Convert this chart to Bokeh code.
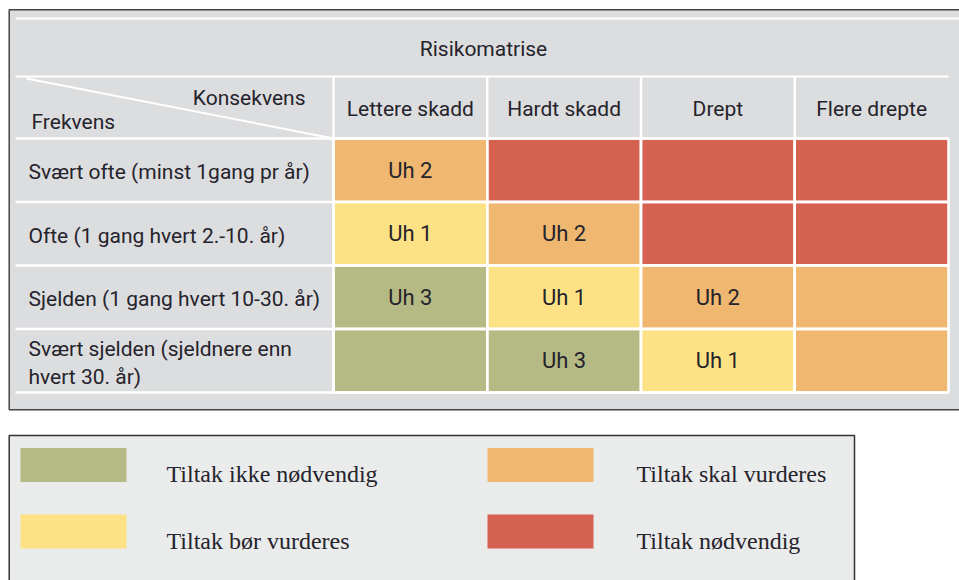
from bokeh.plotting import figure
from bokeh.models import Range1d, ColumnDataSource
from bokeh.core.properties import value
from bokeh.embed import file_html
from bokeh.resources import INLINE

# ---------------- data ----------------
title = "Risikomatrise"
corner_top = "Konsekvens"
corner_bottom = "Frekvens"
consequences = ["Lettere skadd", "Hardt skadd", "Drept", "Flere drepte"]
frequencies = [
    "Svært ofte (minst 1gang pr år)",
    "Ofte (1 gang hvert 2.-10. år)",
    "Sjelden (1 gang hvert 10-30. år)",
    "Svært sjelden (sjeldnere enn\nhvert 30. år)",
]
# risk level per cell (0 = ikke nødvendig ... 3 = nødvendig)
risk_levels = [
    [2, 3, 3, 3],
    [1, 2, 3, 3],
    [0, 1, 2, 2],
    [0, 0, 1, 2],
]
cell_labels = [
    ["Uh 2", "", "", ""],
    ["Uh 1", "Uh 2", "", ""],
    ["Uh 3", "Uh 1", "Uh 2", ""],
    ["", "Uh 3", "Uh 1", ""],
]
legend_labels = ["Tiltak ikke nødvendig", "Tiltak bør vurderes",
                 "Tiltak skal vurderes", "Tiltak nødvendig"]
level_colors = ["#b5ba84", "#fde285", "#f0b770", "#d56250"]

# ---------------- layout (pixels, y downwards) ----------------
W, H = 959, 580
SANS = "Roboto"
SERIF = "Liberation Serif"
TXT = "#25232b"
FS = "21px"
GRID_LEFT, GRID_RIGHT = 333, 948
HEAD_TOP, GRID_TOP, GRID_BOTTOM = 76, 138, 392
col_w = (GRID_RIGHT - GRID_LEFT) / len(consequences)
row_h = (GRID_BOTTOM - GRID_TOP) / len(frequencies)

p = figure(width=W, height=H, x_range=Range1d(0, W), y_range=Range1d(H, 0),
           output_backend="svg", toolbar_location=None, min_border=0)
p.axis.visible = False
p.grid.visible = False
p.outline_line_color = None
p.background_fill_color = "white"
p.border_fill_color = "white"

# top panel
p.quad(left=[8.7], right=[1000], top=[9.3], bottom=[409.3],
       fill_color="#dcdddf", line_color="#444444", line_width=1.5)
p.segment(x0=[15], y0=[18], x1=[1000], y1=[18], line_color="white", line_width=2)
p.segment(x0=[15], y0=[HEAD_TOP], x1=[GRID_RIGHT], y1=[HEAD_TOP],
          line_color="white", line_width=2)
# diagonal of the corner cell
p.segment(x0=[26], y0=[HEAD_TOP + 2], x1=[GRID_LEFT], y1=[GRID_TOP],
          line_color="white", line_width=2)

# cells
xs, ys, cols, labs = [], [], [], []
for r, row in enumerate(risk_levels):
    for c, lvl in enumerate(row):
        xs.append(GRID_LEFT + (c + 0.5) * col_w)
        ys.append(GRID_TOP + (r + 0.5) * row_h)
        cols.append(level_colors[lvl])
        labs.append(cell_labels[r][c])
cell_src = ColumnDataSource(dict(x=xs, y=ys, color=cols, label=labs))
p.rect(x="x", y="y", width=col_w, height=row_h, source=cell_src,
       fill_color="color", line_color="white", line_width=2.5)
p.text(x="x", y="y", text="label", source=cell_src, text_align="center",
       text_baseline="middle", text_font=value(SANS), text_font_size="22px",
       text_color=TXT)

# grid lines
hy = [GRID_TOP + i * row_h for i in range(len(frequencies) + 1)]
p.segment(x0=[15] * len(hy), y0=hy, x1=[GRID_RIGHT] * len(hy), y1=hy,
          line_color="white", line_width=2.5)
vx = [GRID_LEFT + i * col_w for i in range(len(consequences))]
p.segment(x0=vx, y0=[HEAD_TOP] * len(vx), x1=vx, y1=[GRID_BOTTOM] * len(vx),
          line_color="white", line_width=2.5)

# texts
p.text(x=[483], y=[48], text=[title], text_align="center", text_baseline="middle",
       text_font=value(SANS), text_font_size=FS, text_color=TXT)
p.text(x=[GRID_LEFT + (i + 0.5) * col_w for i in range(len(consequences))],
       y=[(HEAD_TOP + GRID_TOP) / 2 + 1] * len(consequences), text=consequences,
       text_align="center", text_baseline="middle", text_font=value(SANS),
       text_font_size=FS, text_color=TXT)
p.text(x=[305], y=[97], text=[corner_top], text_align="right",
       text_baseline="middle", text_font=value(SANS), text_font_size=FS,
       text_color=TXT)
p.text(x=[31], y=[121], text=[corner_bottom], text_align="left",
       text_baseline="middle", text_font=value(SANS), text_font_size=FS,
       text_color=TXT)
p.text(x=[28] * len(frequencies),
       y=[GRID_TOP + (i + 0.5) * row_h + 2 for i in range(len(frequencies))],
       text=frequencies, text_align="left", text_baseline="middle",
       text_font=value(SANS), text_font_size=FS, text_color=TXT,
       text_line_height=1.15)

# legend panel
p.quad(left=[8.7], right=[854], top=[435], bottom=[640],
       fill_color="#eaebeb", line_color="#333333", line_width=1.5)
sw_x = [20, 487]
lab_x = [166, 636]
sw_y = [464.5, 531]
lg_l, lg_r, lg_t, lg_b, lg_c, lg_tx, lg_ty = [], [], [], [], [], [], []
for i, lab in enumerate(legend_labels):
    c, r = i // 2, i % 2
    lg_l.append(sw_x[c]); lg_r.append(sw_x[c] + 106)
    lg_t.append(sw_y[r] - 17); lg_b.append(sw_y[r] + 17)
    lg_c.append(level_colors[i])
    lg_tx.append(lab_x[c]); lg_ty.append(sw_y[r] + 9)
p.quad(left=lg_l, right=lg_r, top=lg_t, bottom=lg_b, fill_color=lg_c,
       line_color=None)
p.text(x=lg_tx, y=lg_ty, text=legend_labels, text_align="left",
       text_baseline="middle", text_font=value(SERIF), text_font_size="24px",
       text_color=TXT)

open("out.html", "w").write(file_html(p, INLINE))
